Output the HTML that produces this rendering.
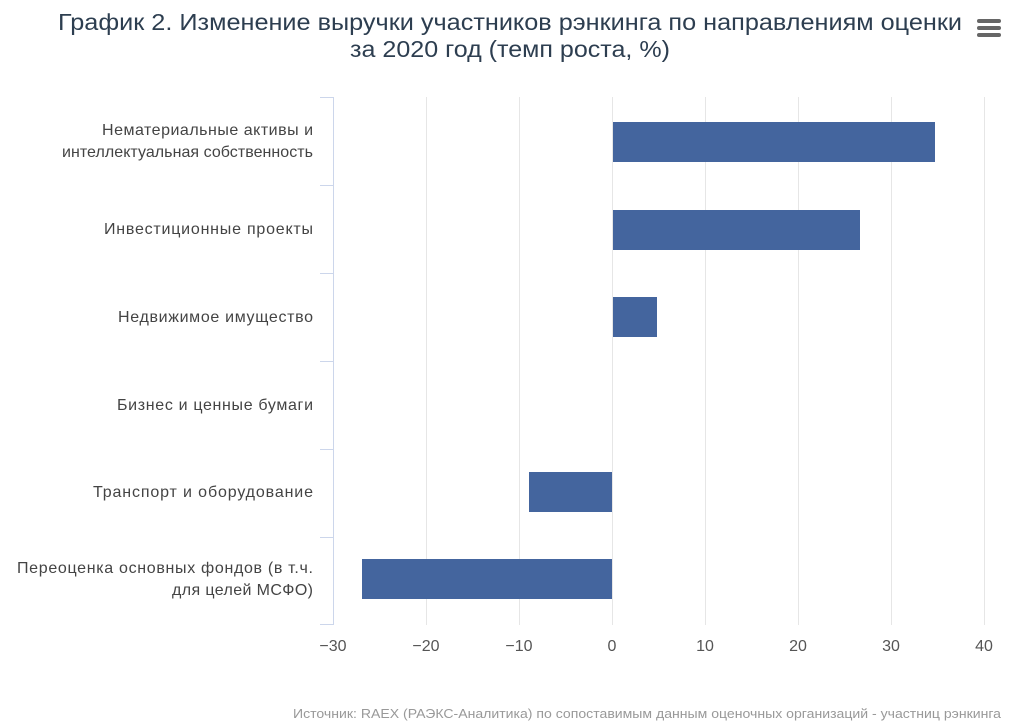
<!DOCTYPE html>
<html><head><meta charset="utf-8"><style>
html,body{margin:0;padding:0;background:#fff;}
svg{display:block;font-family:"Liberation Sans Narrow","Liberation Sans",sans-serif;}
</style></head><body>
<svg width="1024" height="728" viewBox="0 0 1024 728">
<rect width="1024" height="728" fill="#fff"/>
<text x="510" y="30" text-anchor="middle" font-size="23" fill="#2d3e50" textLength="904" lengthAdjust="spacingAndGlyphs">График 2. Изменение выручки участников рэнкинга по направлениям оценки</text>
<text x="510" y="57" text-anchor="middle" font-size="23" fill="#2d3e50" textLength="320" lengthAdjust="spacingAndGlyphs">за 2020 год (темп роста, %)</text>
<g fill="#666"><rect x="977" y="19" width="24" height="4" rx="2"/><rect x="977" y="26" width="24" height="4" rx="2"/><rect x="977" y="33" width="24" height="4" rx="2"/></g>
<g stroke="#e6e6e6" stroke-width="1">
<line x1="426.5" y1="97" x2="426.5" y2="625"/><line x1="519.5" y1="97" x2="519.5" y2="625"/><line x1="612.5" y1="97" x2="612.5" y2="625"/><line x1="705.5" y1="97" x2="705.5" y2="625"/><line x1="798.5" y1="97" x2="798.5" y2="625"/><line x1="891.5" y1="97" x2="891.5" y2="625"/><line x1="984.5" y1="97" x2="984.5" y2="625"/>
</g>
<g stroke="#ccd6eb" stroke-width="1">
<line x1="333.5" y1="97" x2="333.5" y2="625"/>
<line x1="320" y1="97.5" x2="333" y2="97.5"/><line x1="320" y1="185.5" x2="333" y2="185.5"/><line x1="320" y1="273.5" x2="333" y2="273.5"/><line x1="320" y1="361.5" x2="333" y2="361.5"/><line x1="320" y1="449.5" x2="333" y2="449.5"/><line x1="320" y1="537.5" x2="333" y2="537.5"/><line x1="320" y1="624.5" x2="333" y2="624.5"/>
</g>
<g fill="#44659e">
<rect x="613" y="122" width="322" height="40"/>
<rect x="613" y="210" width="247" height="40"/>
<rect x="613" y="297" width="44" height="40"/>
<rect x="529" y="472" width="83" height="40"/>
<rect x="362" y="559" width="250" height="40"/>
</g>
<g font-size="16" fill="#444" text-anchor="end" lengthAdjust="spacingAndGlyphs">
<text x="313" y="135" textLength="211">Нематериальные активы и</text>
<text x="313" y="157" textLength="251">интеллектуальная собственность</text>
<text x="313" y="234" textLength="209">Инвестиционные проекты</text>
<text x="313" y="322" textLength="195">Недвижимое имущество</text>
<text x="313" y="410" textLength="196">Бизнес и ценные бумаги</text>
<text x="313" y="497" textLength="220">Транспорт и оборудование</text>
<text x="313" y="573" textLength="296">Переоценка основных фондов (в т.ч.</text>
<text x="313" y="595" textLength="141">для целей МСФО)</text>
</g>
<g font-size="16" fill="#555" text-anchor="middle">
<text x="333" y="651">−30</text><text x="426" y="651">−20</text><text x="519" y="651">−10</text><text x="612" y="651">0</text><text x="705" y="651">10</text><text x="798" y="651">20</text><text x="891" y="651">30</text><text x="984" y="651">40</text>
</g>
<text x="1001" y="718" text-anchor="end" font-size="13" fill="#999" textLength="708" lengthAdjust="spacingAndGlyphs">Источник: RAEX (РАЭКС-Аналитика) по сопоставимым данным оценочных организаций - участниц рэнкинга</text>
</svg>
</body></html>
